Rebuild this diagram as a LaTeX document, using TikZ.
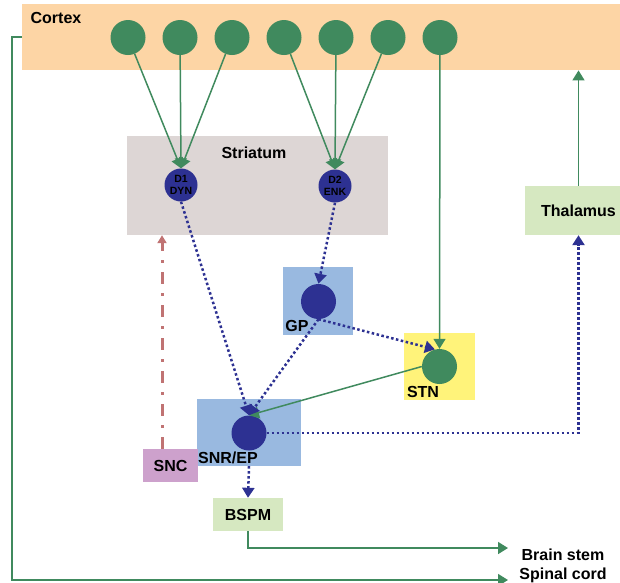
\documentclass[tikz,border=0pt]{standalone}
\usepackage{fontspec}
\setmainfont{Liberation Sans}
\usetikzlibrary{arrows.meta}
\definecolor{ctxorange}{RGB}{253,213,165}
\definecolor{nrngreen}{RGB}{64,138,94}
\definecolor{nrnblue}{RGB}{45,49,146}
\definecolor{strgray}{RGB}{221,214,213}
\definecolor{nucblue}{RGB}{153,185,224}
\definecolor{stnyellow}{RGB}{255,243,122}
\definecolor{relaygreen}{RGB}{214,232,193}
\definecolor{sncpink}{RGB}{205,161,204}
\definecolor{dopred}{RGB}{192,115,115}

\begin{document}
\begin{tikzpicture}[x=1pt,y=-1pt,
    lbl/.style={font=\fontsize{16}{19}\selectfont\bfseries},
    area/.style args={#1 by #2}{rectangle,inner sep=0pt,minimum width=#1,minimum height=#2},
    cell/.style={circle,inner sep=0pt,minimum size=35pt},
    rcpt/.style={cell,minimum size=33pt,fill=nrnblue,align=center,font=\fontsize{10.5}{12}\selectfont\bfseries},
    exc/.style={draw=nrngreen,line width=1.5pt,-{Triangle[width=12pt,length=10pt]}},
    inh/.style={draw=nrnblue,line width=2.5pt,dash pattern=on 2.5pt off 2.5pt,-{Triangle[width=12pt,length=10pt]}},
    dopa/.style={draw=dopred,line width=3pt,dash pattern=on 12pt off 9pt on 3pt off 9pt,-{Triangle[width=9pt,length=8pt]}}]
  \useasboundingbox (0,0) rectangle (620,582);

  % areas
  \node[area={598 by 66},fill=ctxorange,anchor=north west] (cortex) at (22,4) {};
  \node[lbl] (ctxlbl) at (56,18) {Cortex};
  \node[area={261 by 99},fill=strgray] (striat) at (257.5,185.5) {};
  \node[lbl] (strlbl) at (254,153) {Striatum};
  \node[area={70 by 68},fill=nucblue] (gpbox) at (318,301) {};
  \node[area={71 by 67},fill=stnyellow] (stnbox) at (439.5,366.5) {};
  \node[area={104 by 67},fill=nucblue] (snrbox) at (249,432.5) {};
  \node[area={55 by 33},fill=sncpink,lbl] (snc) at (170.5,465.5) {SNC};
  \node[area={107 by 49},fill=relaygreen,lbl] (thal) at (578.5,210.5) {Thalamus};
  \node[area={70 by 33},fill=relaygreen,lbl] (bspm) at (248,514.5) {BSPM};

  % neurons
  \foreach \i in {1,...,7}
    \node[cell,fill=nrngreen] (c\i) at ({76+52*\i},37.5) {};
  \node[rcpt] (d1) at (181,185) {D1\\DYN};
  \node[rcpt] (d2) at (335,186) {D2\\ENK};
  \node[cell,fill=nrnblue] (gp) at (318.5,301.5) {};
  \node[lbl] (gplbl) at (297,326) {GP};
  \node[cell,fill=nrngreen] (stn) at (439.5,366.5) {};
  \node[lbl] (stnlbl) at (423,392) {STN};
  \node[cell,fill=nrnblue] (snr) at (249,433) {};
  \node[lbl] (snrlbl) at (228,458) {SNR/EP};
  \node[lbl,anchor=base] (bstem) at (563,560) {Brain stem};
  \node[lbl,anchor=base] (scord) at (563,579) {Spinal cord};
  \coordinate (bsend) at (508,548);
  \coordinate (scend) at (508,580);
  \coordinate (frame) at (12,580);
  \coordinate (sncup) at ([xshift=-8.5pt]snc.north);

  % pathways
  \foreach \i in {1,2,3}
    \draw[exc] (c\i) -- (d1.north);
  \foreach \i in {4,5,6}
    \draw[exc] (c\i) -- (d2.north);
  \draw[exc] (c7) -- (stn.north);
  \draw[exc] (stn.west) -- (snr.north);
  \draw[exc] (thal.north) -- (thal.north |- cortex.south);
  \draw[exc] (bspm.south) |- (bsend);
  \draw[exc] (cortex.west) -| (frame) -- (scend);

  \draw[inh] (d1.south) -- (snr.north);
  \draw[inh] (d2.south) -- (gp.north);
  \draw[inh] (gp.south) -- (snr.north);
  \draw[inh] (gp.south) -- (stn.105);
  \draw[inh] (snr.east) -| (thal.south);
  \draw[inh] (snrbox.south) -- (bspm.north);

  \draw[dopa] (sncup) -- (sncup |- striat.south);
\end{tikzpicture}
\end{document}
